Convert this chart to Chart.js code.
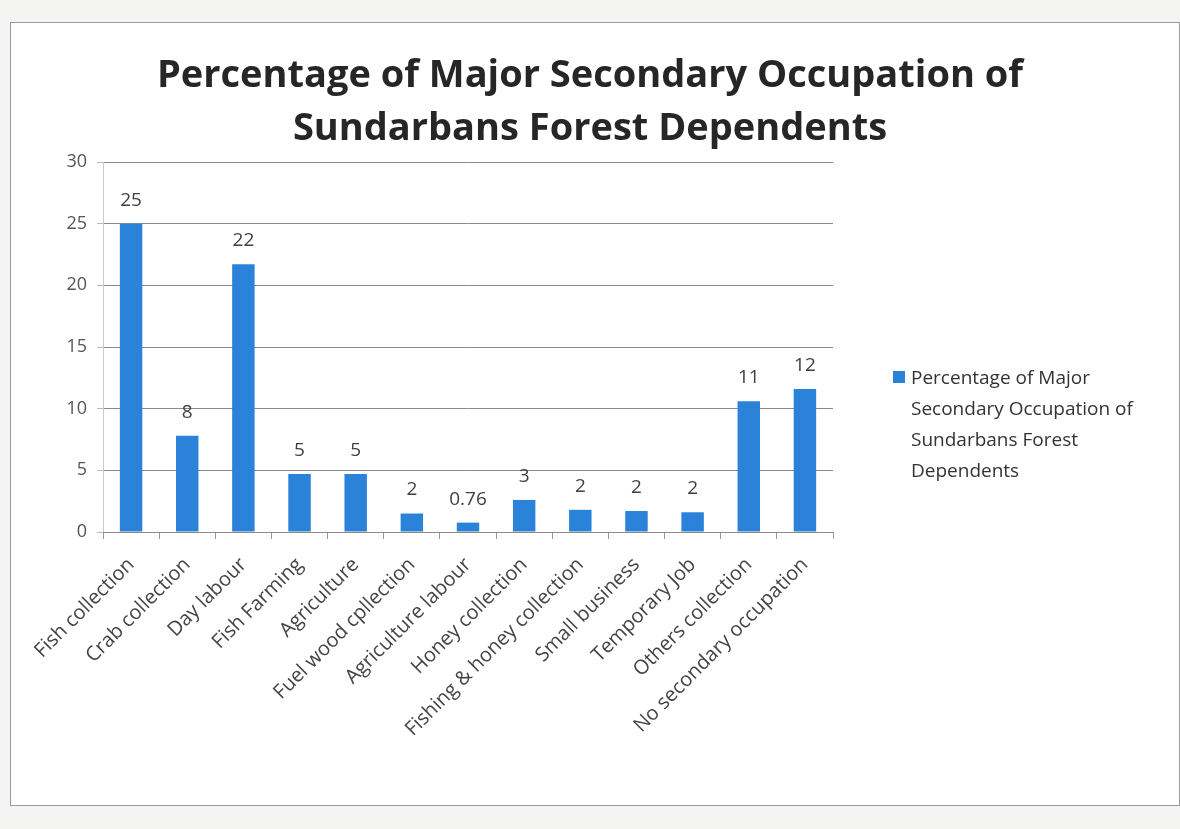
<!DOCTYPE html>
<html>
<head>
<meta charset="utf-8">
<script src="https://cdn.jsdelivr.net/npm/chart.js@4.4.0/dist/chart.umd.min.js"></script>
<style>
  html, body { margin: 0; padding: 0; background: #f4f4f2; }
  #wrap { position: relative; width: 1180px; height: 829px; }
  #frame { position: absolute; left: 10px; top: 22px; width: 1168px; height: 782px; background: #fff; border: 1px solid #9a9a9a; }
  #c { position: absolute; left: 0; top: 0; }
  #title { position: absolute; left: 0; top: 46px; width: 1180px; text-align: center; font-family: 'Open Sans', 'Noto Sans', sans-serif; font-size: 38px; font-weight: bold; line-height: 53px; color: #262626; }
  #legend { position: absolute; left: 893px; top: 362px; font-family: 'Open Sans', 'Noto Sans', sans-serif; font-size: 19px; line-height: 31px; color: #333; }
  #legend .sw { display: inline-block; width: 12px; height: 12px; background: #2b83d9; margin-right: 6px; vertical-align: 1px; }
  #legend .ln { padding-left: 18px; }
</style>
</head>
<body>
<div id="wrap">
  <div id="frame"></div>
  <canvas id="c" width="1180" height="829"></canvas>
  <div id="title">Percentage of Major Secondary Occupation of<br>Sundarbans Forest Dependents</div>
  <div id="legend">
    <div><span class="sw"></span>Percentage of Major</div>
    <div class="ln">Secondary Occupation of</div>
    <div class="ln">Sundarbans Forest</div>
    <div class="ln">Dependents</div>
  </div>
</div>
<script>
const categories = ['Fish collection', 'Crab collection', 'Day labour', 'Fish Farming', 'Agriculture',
  'Fuel wood cpllection', 'Agriculture labour', 'Honey collection', 'Fishing & honey collection',
  'Small business', 'Temporary Job', 'Others collection', 'No secondary occupation'];
const values = [25, 7.8, 21.7, 4.7, 4.7, 1.5, 0.76, 2.6, 1.8, 1.7, 1.6, 10.6, 11.6];
const valueLabels = ['25', '8', '22', '5', '5', '2', '0.76', '3', '2', '2', '2', '11', '12'];
const yTicks = [0, 5, 10, 15, 20, 25, 30];

const FONT = "'Open Sans', 'Noto Sans', sans-serif";
const barColor = '#2b83d9';

const valueLabelPlugin = {
  id: 'valueLabels',
  afterDatasetsDraw(chart) {
    const ctx = chart.ctx;
    const meta = chart.getDatasetMeta(0);
    ctx.save();
    ctx.font = '19px ' + FONT;
    ctx.fillStyle = '#404040';
    ctx.textAlign = 'center';
    ctx.textBaseline = 'bottom';
    meta.data.forEach((bar, i) => {
      ctx.fillText(valueLabels[i], bar.x, bar.y - 14);
    });
    ctx.restore();
  }
};

new Chart(document.getElementById('c'), {
  type: 'bar',
  data: {
    labels: categories,
    datasets: [{
      label: 'Percentage of Major Secondary Occupation of Sundarbans Forest Dependents',
      data: values,
      backgroundColor: barColor,
      borderWidth: 0,
      barPercentage: 0.4,
      categoryPercentage: 1
    }]
  },
  options: {
    responsive: false,
    animation: false,
    layout: { padding: { left: 20, right: 347, bottom: 0, top: 162 } },
    plugins: {
      legend: { display: false },
      tooltip: { enabled: false },
      title: { display: false }
    },
    scales: {
      y: {
        min: 0,
        max: 30,
        afterFit(scale) { scale.width = 83; },
        afterBuildTicks(scale) { scale.ticks = yTicks.map(v => ({ value: v })); },
        ticks: { font: { family: FONT, size: 18 }, color: '#555', padding: 10 },
        grid: { color: '#8a8a8a', lineWidth: 1, tickLength: 6, tickColor: '#bbb' },
        border: { display: true, color: '#c8c8c8' }
      },
      x: {
        afterFit(scale) { scale.height = 297; },
        ticks: {
          font: { family: FONT, size: 20 },
          color: '#444',
          minRotation: 45,
          maxRotation: 45,
          autoSkip: false,
          padding: 14
        },
        grid: { display: true, drawOnChartArea: false, offset: true, tickLength: 7, color: '#9a9a9a' },
        border: { display: true, color: '#8a8a8a' }
      }
    }
  },
  plugins: [valueLabelPlugin]
});
</script>
</body>
</html>
